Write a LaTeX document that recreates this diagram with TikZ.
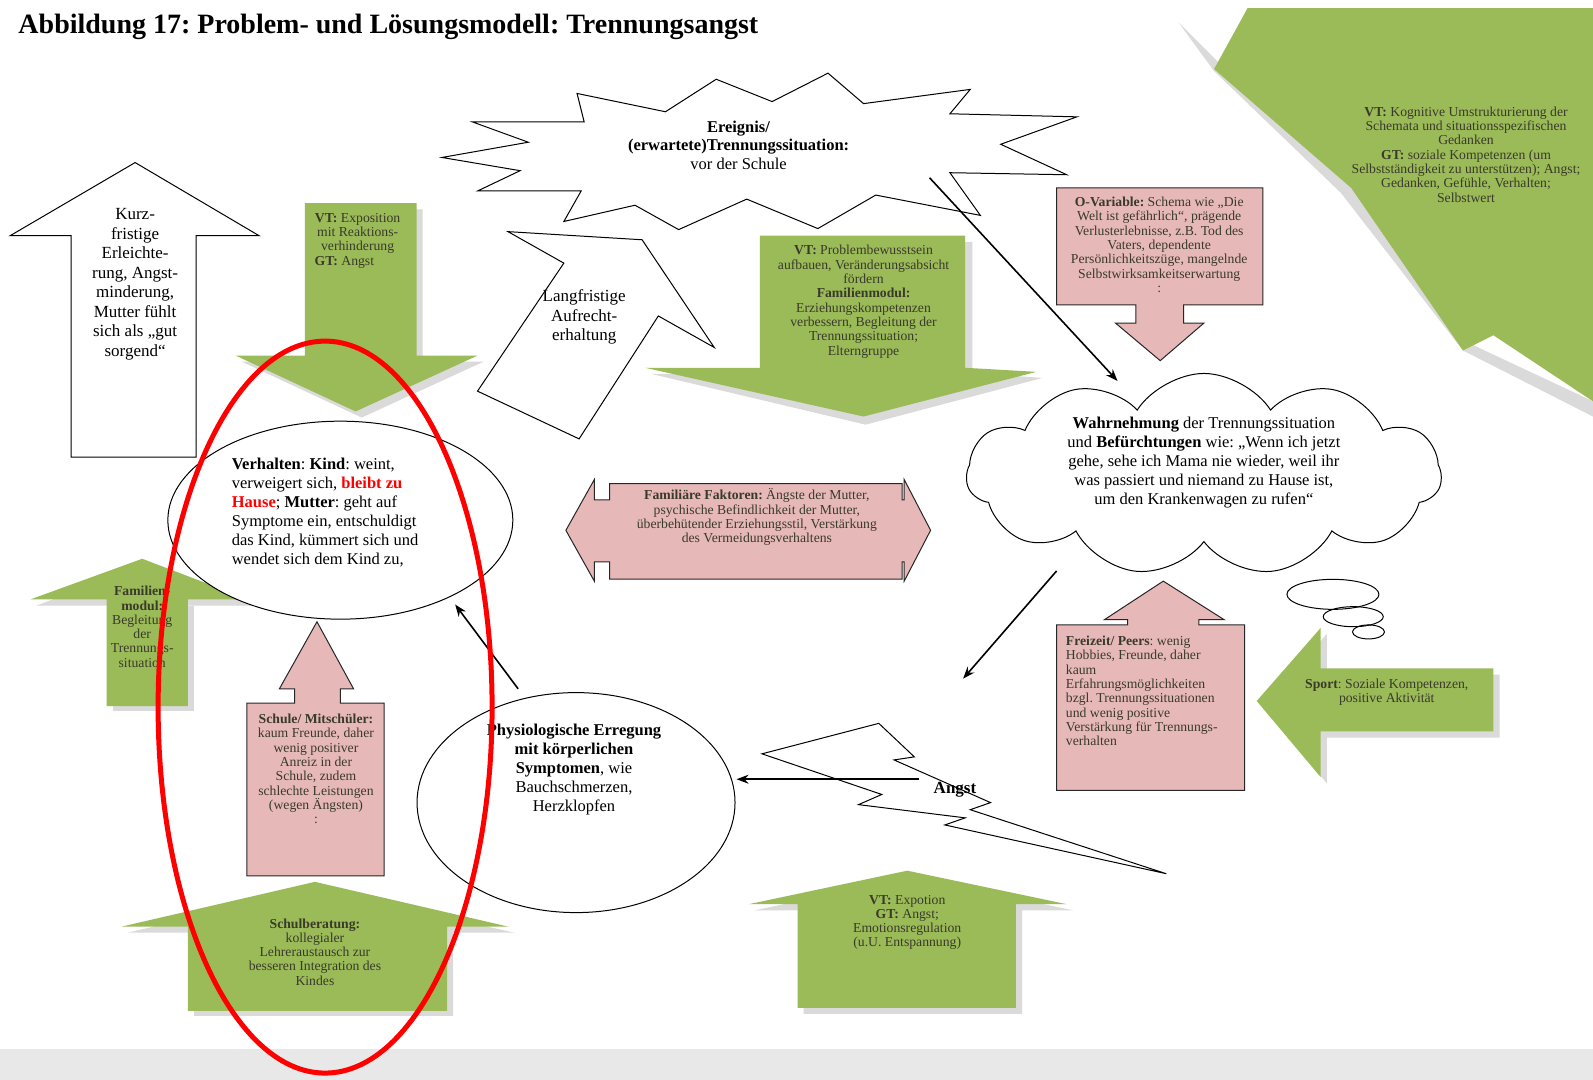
\documentclass[tikz,border=0pt]{standalone}
\usepackage{fontspec}
\setmainfont{Liberation Serif}
\usetikzlibrary{arrows.meta,shapes.geometric,shapes.symbols}
\definecolor{grn}{HTML}{9BBB59}
\definecolor{pnk}{HTML}{E6B9B8}
\definecolor{band}{HTML}{E8E8E8}
\definecolor{shd}{HTML}{DADADA}
\definecolor{txtd}{HTML}{3A3A2A}
\tikzset{
  greenarrow/.style={fill=grn, draw=none},
  greenshadow/.style={fill=shd, draw=none},
  pinkshape/.style={fill=pnk, draw=black!85, line width=1pt},
  whiteshape/.style={fill=white, draw=black, line width=1pt},
  conn/.style={draw=black, line width=1.6pt, -{Stealth[length=12pt,width=9pt]}},
  smalltxt/.style={font=\fontsize{13.7}{14.3}\selectfont, align=center, text=txtd, inner sep=0pt},
  bigtxt/.style={font=\fontsize{17}{19.5}\selectfont, align=center, inner sep=0pt},
}
\begin{document}
\frenchspacing
\begin{tikzpicture}[x=1.016pt, y=-1.016pt]
\useasboundingbox (0,0) rectangle (1568,1063);
\fill[white] (0,0) rectangle (1568,1063);
\fill[band] (0,1033) rectangle (1568,1063);

% title
\node[anchor=west, font=\fontsize{28}{32}\selectfont\bfseries, inner sep=0pt] (title) at (18,26) {Abbildung 17: Problem- und Lösungsmodell: Trennungsangst};

% top-right green shape
\fill[greenshadow] (1160,22) -- (1195,70) -- (1320,190) -- (1440,345) -- (1568,410) -- (1568,395) -- (1440,335) -- (1330,180) -- (1200,62) -- cycle;
\fill[greenarrow] (1195,68) -- (1228,8) -- (1568,8) -- (1568,395) -- (1470,330) -- (1440,345) -- (1330,185) -- cycle;
\node[smalltxt] (gtr) at (1443,152) {\textbf{VT:} Kognitive Umstrukturierung der\\Schemata und situationsspezifischen\\Gedanken\\\textbf{GT:} soziale Kompetenzen (um\\Selbstständigkeit zu unterstützen); Angst;\\Gedanken, Gefühle, Verhalten;\\Selbstwert};

% white arrow Kurzfristige
\draw[whiteshape] (70,450) -- (193,450) -- (193,232) -- (255,232) -- (133,160) -- (10,232) -- (70,232) -- cycle;
\node[bigtxt] (kurz) at (133,280) {Kurz-\\fristige\\Erleichte-\\rung, Angst-\\minderung,\\Mutter fühlt\\sich als „gut\\sorgend“};

% green arrow A (top left, down)
\fill[greenshadow] (306,206) -- (416,206) -- (416,356) -- (476,356) -- (356,411) -- (238,356) -- (306,356) -- cycle;
\fill[greenarrow] (300,200) -- (410,200) -- (410,350) -- (470,350) -- (350,405) -- (232,350) -- (300,350) -- cycle;
\node[smalltxt] (gA) at (352,237) {\textbf{VT:} Exposition\\mit Reaktions-\\verhinderung\\\makebox[86pt][l]{\textbf{GT:} Angst}};

% starburst
\draw[whiteshape] (435,155) -- (520,140) -- (465,120) -- (575,120) -- (568,92) -- (655,110) -- (705,78) -- (760,100) -- (815,72) -- (850,102) -- (955,88) -- (935,112) -- (1060,115) -- (985,142) -- (1050,172) -- (935,170) -- (965,212) -- (862,192) -- (805,225) -- (735,196) -- (668,226) -- (625,202) -- (555,218) -- (572,188) -- (470,188) -- (512,168) -- cycle;
\node[font=\fontsize{16.5}{18.5}\selectfont, align=center, inner sep=0pt] (ev) at (727,143) {\textbf{Ereignis/}\\\textbf{(erwartete)Trennungssituation:}\\vor der Schule};

% white arrow Langfristige
\draw[whiteshape] (470,385) -- (570,432) -- (648,311) -- (703,342) -- (632,236) -- (500,228) -- (555,259) -- cycle;
\node[bigtxt] (lang) at (575,312) {Langfristige\\Aufrecht-\\erhaltung};

% green arrow B (middle, down)
\fill[greenshadow] (755,238) -- (957,238) -- (957,367) -- (1026,372) -- (852,418) -- (641,368) -- (755,368) -- cycle;
\fill[greenarrow] (748,232) -- (950,232) -- (950,362) -- (1020,366) -- (850,410) -- (635,362) -- (748,362) -- cycle;
\node[smalltxt] (gB) at (850,297) {\textbf{VT:} Problembewusstsein\\aufbauen, Veränderungsabsicht\\fördern\\\textbf{Familienmodul:}\\Erziehungskompetenzen\\verbessern, Begleitung der\\Trennungssituation;\\Elterngruppe};

% pink O-Variable
\draw[pinkshape] (1040,185) -- (1243,185) -- (1243,300) -- (1165,300) -- (1165,318) -- (1185,318) -- (1142,355) -- (1098,318) -- (1118,318) -- (1118,300) -- (1040,300) -- cycle;
\node[smalltxt] (ov) at (1141,241) {\textbf{O-Variable:} Schema wie „Die\\Welt ist gefährlich“, prägende\\Verlusterlebnisse, z.B. Tod des\\Vaters, dependente\\Persönlichkeitszüge, mangelnde\\Selbstwirksamkeitserwartung\\:};

% cloud
\node[cloud, draw, line width=1pt, fill=white, cloud puffs=11, cloud puff arc=115, aspect=2.3, minimum width=475pt, minimum height=202pt] (cl) at (1185,467) {};
\node[font=\fontsize{16.5}{19}\selectfont, align=center, inner sep=0pt] (cltxt) at (1185,455) {\textbf{Wahrnehmung} der Trennungssituation\\und \textbf{Befürchtungen} wie: „Wenn ich jetzt\\gehe, sehe ich Mama nie wieder, weil ihr\\was passiert und niemand zu Hause ist,\\um den Krankenwagen zu rufen“};
\node[ellipse, draw, line width=1pt, minimum width=92pt, minimum height=30pt, inner sep=0pt] (b1) at (1312,585) {};
\node[ellipse, draw, line width=1pt, minimum width=60pt, minimum height=20pt, inner sep=0pt] (b2) at (1332,607) {};
\node[ellipse, draw, line width=1pt, minimum width=32pt, minimum height=14pt, inner sep=0pt] (b3) at (1347,622) {};

% pink double arrow Familiäre Faktoren
\draw[pinkshape] (600,476) -- (888,476) -- (888,492) -- (890,492) -- (890,472) -- (916,522) -- (890,572) -- (890,553) -- (888,553) -- (888,570) -- (600,570) -- (600,553) -- (585,553) -- (585,572) -- (557,522) -- (585,472) -- (585,492) -- (600,492) -- cycle;
\node[smalltxt] (ff) at (745,509) {\textbf{Familiäre Faktoren:} Ängste der Mutter,\\psychische Befindlichkeit der Mutter,\\überbehütender Erziehungsstil, Verstärkung\\des Vermeidungsverhaltens};

% green arrow C (left, up, Familienmodul)
\fill[greenshadow] (111,596) -- (191,596) -- (191,700) -- (111,700) -- cycle;
\fill[greenshadow] (36,596) -- (145,555) -- (252,596) -- cycle;
\fill[greenarrow] (105,590) -- (30,590) -- (140,550) -- (245,590) -- (185,590) -- (185,695) -- (105,695) -- cycle;
\node[smalltxt] (gC) at (140,617) {\textbf{Familien-}\\\textbf{modul:}\\Begleitung\\der\\Trennungs-\\situation};

% green arrow D (bottom left, up)
\fill[greenshadow] (126,918) -- (312,874) -- (506,918) -- (446,918) -- (446,1000) -- (191,1000) -- (191,918) -- cycle;
\fill[greenarrow] (120,912) -- (310,868) -- (500,912) -- (440,912) -- (440,995) -- (185,995) -- (185,912) -- cycle;
\node[smalltxt] (gD) at (310,937) {\textbf{Schulberatung:}\\kollegialer\\Lehreraustausch zur\\besseren Integration des\\Kindes};

% ellipse Verhalten
\node[ellipse, draw, line width=1pt, fill=white, minimum width=345pt, minimum height=198pt, inner sep=0pt] (beh) at (335,512) {};
\node[font=\fontsize{16.5}{19}\selectfont, align=left, inner sep=0pt, anchor=north west] (behtxt) at (228,451) {\textbf{Verhalten}: \textbf{Kind}: weint,\\verweigert sich, \textcolor{red}{\textbf{bleibt zu}}\\\textcolor{red}{\textbf{Hause}}; \textbf{Mutter}: geht auf\\Symptome ein, entschuldigt\\das Kind, kümmert sich und\\wendet sich dem Kind zu,};

% pink Schule/Mitschüler
\draw[pinkshape] (243,692) -- (290,692) -- (290,678) -- (275,678) -- (312,612) -- (348,678) -- (335,678) -- (335,692) -- (378,692) -- (378,862) -- (243,862) -- cycle;
\node[smalltxt] (sm) at (311,757) {\textbf{Schule/ Mitschüler:}\\kaum Freunde, daher\\wenig positiver\\Anreiz in der\\Schule, zudem\\schlechte Leistungen\\(wegen Ängsten)\\:};

% physiological circle
\node[ellipse, draw, line width=1pt, fill=white, minimum width=318pt, minimum height=220pt] (phys) at (567,790) {};
\node[font=\fontsize{16.5}{19}\selectfont, align=center, inner sep=0pt] (phystxt) at (565,757) {\textbf{Physiologische Erregung}\\\textbf{mit körperlichen}\\\textbf{Symptomen}, wie\\Bauchschmerzen,\\Herzklopfen};

% lightning Angst
\draw[whiteshape] (750,742) -- (865,712) -- (900,745) -- (880,748) -- (975,790) -- (955,797) -- (1148,860) -- (930,812) -- (950,805) -- (845,792) -- (868,782) -- cycle;
\node[font=\fontsize{17}{19}\selectfont\bfseries, inner sep=0pt] (angst) at (940,777) {Angst};

% pink Freizeit/Peers
\draw[pinkshape] (1040,615) -- (1110,615) -- (1110,610) -- (1087,610) -- (1145,572) -- (1205,610) -- (1180,610) -- (1180,615) -- (1225,615) -- (1225,778) -- (1040,778) -- cycle;
\node[smalltxt, align=left, anchor=north west] (fp) at (1049,626) {\textbf{Freizeit/ Peers}: wenig\\Hobbies, Freunde, daher\\kaum\\Erfahrungsmöglichkeiten\\bzgl. Trennungssituationen\\und wenig positive\\Verstärkung für Trennungs-\\verhalten};

% green arrow F (Sport, left)
\fill[greenshadow] (1243,696) -- (1306,624) -- (1306,664) -- (1476,664) -- (1476,726) -- (1306,726) -- (1306,771) -- cycle;
\fill[greenarrow] (1237,690) -- (1300,618) -- (1300,658) -- (1470,658) -- (1470,720) -- (1300,720) -- (1300,765) -- cycle;
\node[smalltxt] (sp) at (1365,681) {\textbf{Sport}: Soziale Kompetenzen,\\positive Aktivität};

% green arrow E (bottom middle, up)
\fill[greenshadow] (743,896) -- (899,863) -- (1056,896) -- (1006,896) -- (1006,998) -- (791,998) -- (791,896) -- cycle;
\fill[greenarrow] (737,890) -- (893,857) -- (1050,890) -- (1000,890) -- (1000,992) -- (785,992) -- (785,890) -- cycle;
\node[smalltxt] (gE) at (893,908) {\textbf{VT:} Expotion\\\textbf{GT:} Angst;\\Emotionsregulation\\(u.U. Entspannung)};

% connectors
\coordinate (c1s) at (915,175);
\coordinate (c1e) at (1100,375);
\coordinate (c2s) at (1040,562);
\coordinate (c2e) at (948,668);
\coordinate (c3s) at (510,678);
\coordinate (c3e) at (448,595);
\coordinate (c4s) at (905,767);
\coordinate (c4e) at (725,767);
\draw[conn] (c1s) -- (c1e);
\draw[conn] (c2s) -- (c2e);
\draw[conn] (c3s) -- (c3e);
\draw[conn] (c4s) -- (c4e);

% red ellipse
\node[ellipse, draw=red, line width=5pt, minimum width=334pt, minimum height=732pt, inner sep=0pt] (redring) at (320,696) {};
\end{tikzpicture}
\end{document}
